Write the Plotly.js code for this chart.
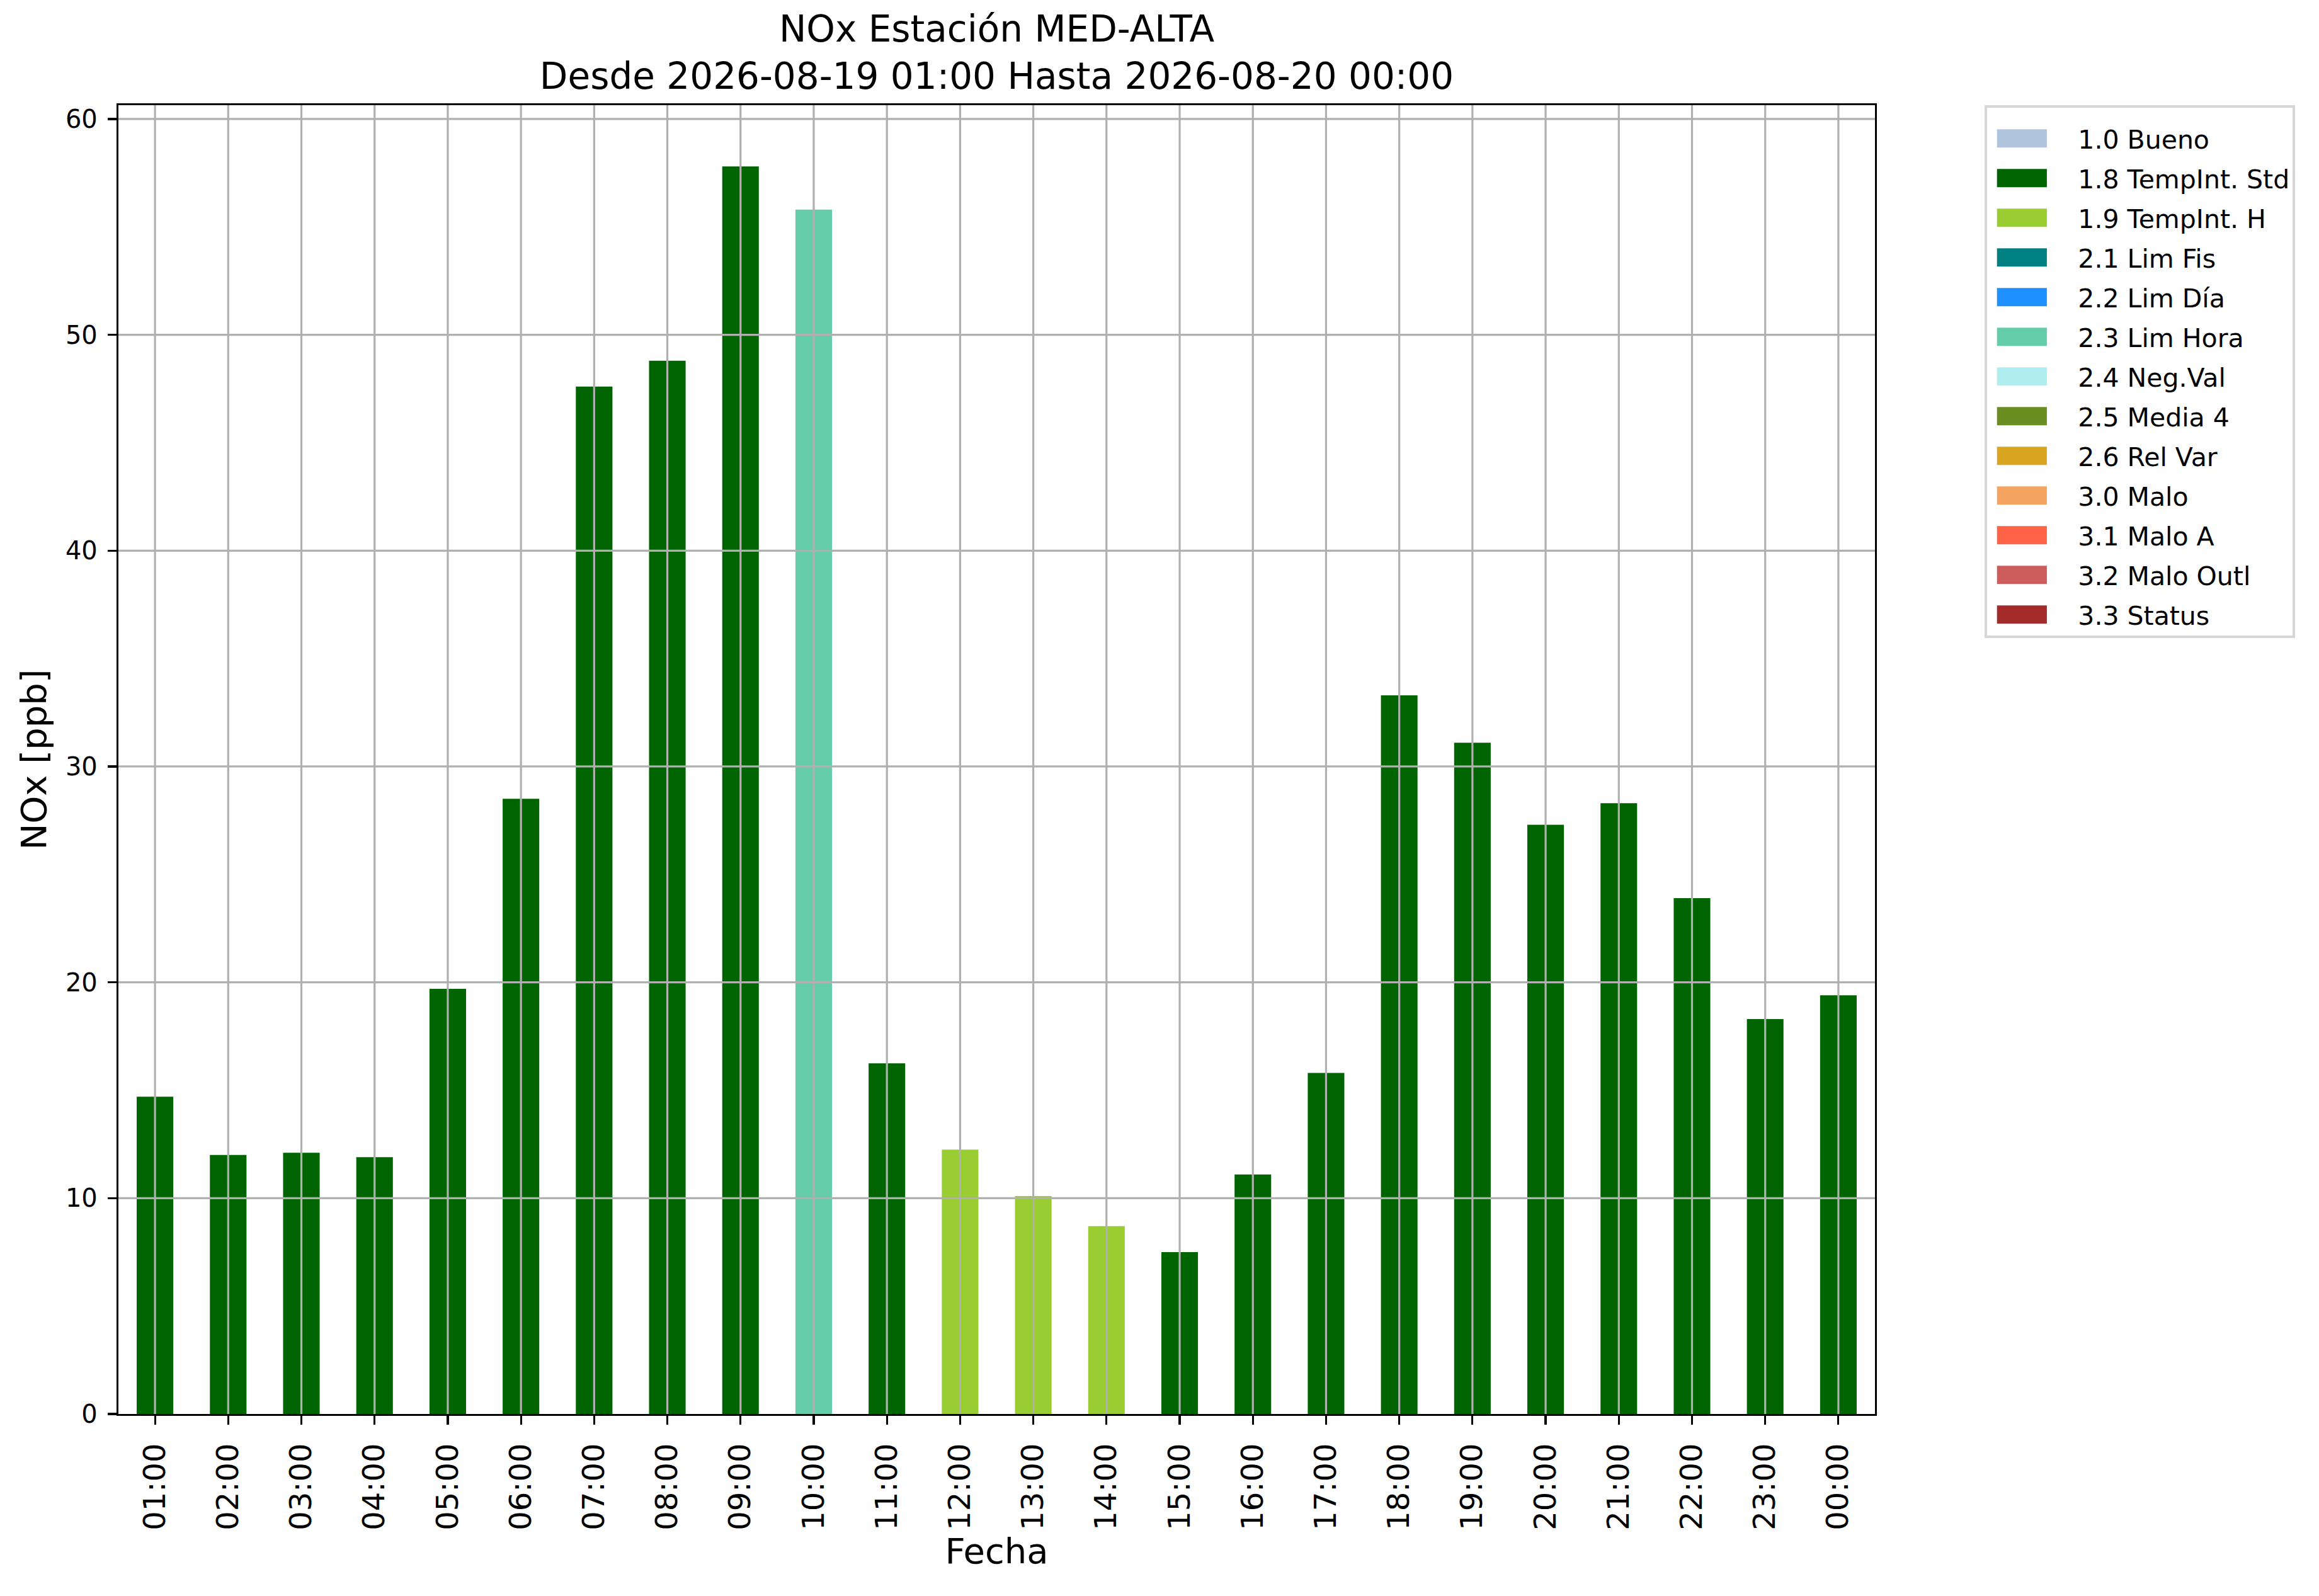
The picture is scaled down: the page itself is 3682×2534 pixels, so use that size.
<!DOCTYPE html>
<html>
<head>
<meta charset="utf-8">
<script src="https://cdn.plot.ly/plotly-3.0.1.min.js"></script>
<style>
  html, body { margin: 0; padding: 0; background: #fff; }
  #chart { width: 3682px; height: 2534px; }
</style>
</head>
<body>
<div id="chart"></div>
<script>
const hours = ["01:00", "02:00", "03:00", "04:00", "05:00", "06:00", "07:00", "08:00",
  "09:00", "10:00", "11:00", "12:00", "13:00", "14:00", "15:00", "16:00",
  "17:00", "18:00", "19:00", "20:00", "21:00", "22:00", "23:00", "00:00"];
const nox = [14.7, 12.0, 12.1, 11.9, 19.7, 28.5, 47.6, 48.8, 57.8, 55.8, 16.25, 12.25,
  10.1, 8.7, 7.5, 11.1, 15.8, 33.3, 31.1, 27.3, 28.3, 23.9, 18.3, 19.4];
const flags = ["1.8", "1.8", "1.8", "1.8", "1.8", "1.8", "1.8", "1.8", "1.8", "2.3", "1.8", "1.9",
  "1.9", "1.9", "1.8", "1.8", "1.8", "1.8", "1.8", "1.8", "1.8", "1.8", "1.8", "1.8"];

const codes = ["1.0", "1.8", "1.9", "2.1", "2.2", "2.3", "2.4", "2.5", "2.6", "3.0", "3.1", "3.2", "3.3"];
const codeNames = ["1.0 Bueno", "1.8 TempInt. Std", "1.9 TempInt. H", "2.1 Lim Fis", "2.2 Lim Día",
  "2.3 Lim Hora", "2.4 Neg.Val", "2.5 Media 4", "2.6 Rel Var", "3.0 Malo", "3.1 Malo A",
  "3.2 Malo Outl", "3.3 Status"];
const codeColors = ["#b0c4de", "#006400", "#9acd32", "#008080", "#1e90ff", "#66cdaa", "#afeeee",
  "#6b8e23", "#daa520", "#f4a460", "#ff6347", "#cd5c5c", "#a52a2a"];

const yTicks = [0, 10, 20, 30, 40, 50, 60];

const font = "DejaVu Sans, sans-serif";
const gridColor = "#b0b0b0";

// one bar trace per quality code, empty where the hour has another flag
const traces = codes.map((code, k) => ({
  type: "bar",
  x: hours,
  y: nox.map((v, i) => (flags[i] === code ? v : null)),
  name: codeNames[k],
  legendgroup: code,
  width: 0.5,
  marker: { color: codeColors[k], line: { width: 0 } },
  hoverinfo: "x+y",
}));

// matplotlib draws the grid over the bars, so use shapes on the top layer
const gridShapes = [];
hours.forEach((h) => {
  gridShapes.push({
    type: "line", layer: "above", xref: "x", yref: "paper",
    x0: h, x1: h, y0: 0, y1: 1,
    line: { color: gridColor, width: 3.2 },
  });
});
yTicks.filter((t) => t > 0).forEach((t) => {
  gridShapes.push({
    type: "line", layer: "above", xref: "paper", yref: "y",
    x0: 0, x1: 1, y0: t, y1: t,
    line: { color: gridColor, width: 3.2 },
  });
});

const layout = {
  width: 3682,
  height: 2534,
  margin: { l: 188, r: 705, t: 167, b: 289, pad: 0 },
  paper_bgcolor: "#ffffff",
  plot_bgcolor: "#ffffff",
  font: { family: font, color: "#000000" },
  barmode: "overlay",
  title: {
    text: "NOx Estación MED-ALTA<br>Desde 2026-08-19 01:00 Hasta 2026-08-20 00:00",
    font: { family: font, size: 58, color: "#000000" },
    xref: "paper",
    x: 0.5,
    xanchor: "center",
    yref: "container",
    y: 1 - 66 / 2534,
    yanchor: "top",
  },
  xaxis: {
    type: "category",
    categoryorder: "array",
    categoryarray: hours,
    range: [-0.5, hours.length - 0.5],
    tickangle: -90,
    tickfont: { family: font, size: 48 },
    ticks: "outside",
    ticklen: 14,
    tickwidth: 3.2,
    tickcolor: "#000000",
    ticklabelstandoff: 10,
    showgrid: false,
    showline: true,
    mirror: true,
    linecolor: "#000000",
    linewidth: 3.2,
    zeroline: false,
    title: { text: "Fecha", font: { family: font, size: 56 }, standoff: 10 },
  },
  yaxis: {
    range: [0, 60.64],
    tickvals: yTicks,
    tickfont: { family: font, size: 40 },
    ticks: "outside",
    ticklen: 14,
    tickwidth: 3.2,
    tickcolor: "#000000",
    ticklabelstandoff: 8,
    showgrid: false,
    showline: true,
    mirror: true,
    linecolor: "#000000",
    linewidth: 3.2,
    zeroline: false,
    title: { text: "NOx [ppb]", font: { family: font, size: 56 }, standoff: 13 },
  },
  shapes: gridShapes,
  showlegend: true,
  legend: {
    x: 1.0625,
    xanchor: "left",
    y: 1.0,
    yanchor: "top",
    traceorder: "grouped",
    tracegroupgap: 6.7,
    itemwidth: 134,
    bgcolor: "#ffffff",
    bordercolor: "#d6d6d6",
    borderwidth: 4,
    font: { family: font, size: 41, color: "#000000" },
    title: { text: " ", font: { family: font, size: 12 } },
  },
};

Plotly.newPlot("chart", traces, layout, { staticPlot: true }).then(() => {
  // widen the square legend swatches into matplotlib-like rectangles
  document.querySelectorAll(".legend .legendpoints path").forEach((p) => {
    const t = p.getAttribute("transform") || "";
    p.setAttribute("transform", t + " translate(-17,0) scale(6.6,2.4)");
  });
});
</script>
</body>
</html>
